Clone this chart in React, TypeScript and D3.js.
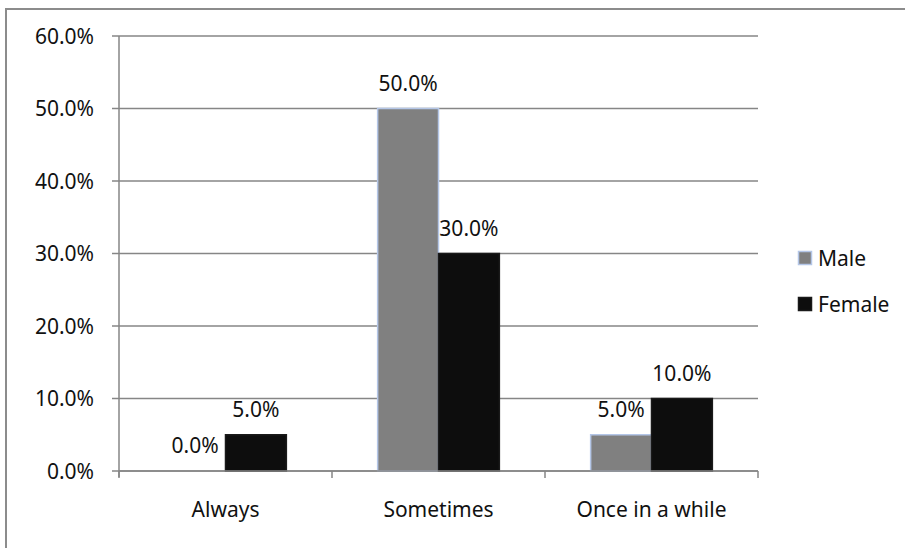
import React from 'react';
import * as d3 from 'd3';

const categories = ['Always', 'Sometimes', 'Once in a while'];
const seriesNames = ['Male', 'Female'];
const maleValues = [0.0, 0.5, 0.05];
const femaleValues = [0.05, 0.3, 0.1];
const yTicks = [0, 0.1, 0.2, 0.3, 0.4, 0.5, 0.6];

const width = 905;
const height = 548;
const margin = { top: 36, right: 147, bottom: 77, left: 119 };
const font = '"Noto Sans", "Open Sans", sans-serif';
const gridColor = '#868686';

const fills: Record<string, string> = { Male: '#808080', Female: '#0d0d0d' };
const strokes: Record<string, string> = { Male: '#b4c6e7', Female: '#1a1a1a' };

const App: React.FC = () => {
    const x0 = d3.scaleBand<string>()
        .domain(categories)
        .range([margin.left, width - margin.right])
        .padding(0);

    const x1 = d3.scaleBand<string>()
        .domain(seriesNames)
        .range([0, x0.bandwidth()])
        .paddingInner(0)
        .paddingOuter(0.75);

    const y = d3.scaleLinear()
        .domain([0, 0.6])
        .range([height - margin.bottom, margin.top]);

    const fmt = d3.format('.1%');
    const valuesBySeries: Record<string, number[]> = { Male: maleValues, Female: femaleValues };
    const baseline = y(0);
    const boundaries = [...categories.map(c => x0(c) as number), width - margin.right];

    return (
        <svg width={width} height={height} style={{ position: 'absolute', left: 0, top: 0, background: '#fff' }}
             fontFamily={font}>
            {/* chart frame */}
            <rect x={6} y={9} width={width + 20} height={height + 20} fill="#fff" stroke="#8c8c8c" strokeWidth={2} />

            {/* gridlines + y labels */}
            {yTicks.map(t => (
                <g key={t}>
                    <line x1={margin.left - 7} x2={width - margin.right} y1={y(t)} y2={y(t)}
                          stroke={gridColor} strokeWidth={1.5} />
                    <text x={94} y={y(t)} dy="0.36em" textAnchor="end" fontSize={21} fill="#111">{fmt(t)}</text>
                </g>
            ))}

            {/* y axis line */}
            <line x1={margin.left} x2={margin.left} y1={margin.top} y2={baseline + 6} stroke={gridColor} strokeWidth={1.5} />

            {/* bars */}
            {categories.map((c, i) => (
                <g key={c} transform={`translate(${x0(c)},0)`}>
                    {seriesNames.map(s => {
                        const v = valuesBySeries[s][i];
                        const bx = x1(s) as number;
                        return (
                            <g key={s}>
                                {v > 0 && (
                                    <rect x={bx} y={y(v)} width={x1.bandwidth()} height={baseline - y(v)}
                                          fill={fills[s]} stroke={strokes[s]} strokeWidth={1.5} />
                                )}
                                <text x={bx + x1.bandwidth() / 2} y={y(v) - 18} textAnchor="middle"
                                      fontSize={21} fill="#111">{fmt(v)}</text>
                            </g>
                        );
                    })}
                </g>
            ))}

            {/* x axis */}
            <line x1={margin.left} x2={width - margin.right} y1={baseline} y2={baseline} stroke={gridColor} strokeWidth={1.5} />
            {boundaries.map((bx, i) => (
                <line key={i} x1={bx} x2={bx} y1={baseline} y2={baseline + 7} stroke={gridColor} strokeWidth={1.5} />
            ))}
            {categories.map(c => (
                <text key={c} x={(x0(c) as number) + x0.bandwidth() / 2} y={517} textAnchor="middle"
                      fontSize={21} fill="#111">{c}</text>
            ))}

            {/* legend */}
            {seriesNames.map((s, i) => (
                <g key={s} transform={`translate(798,${251 + i * 46})`}>
                    <rect x={0.5} y={0.5} width={13} height={13} fill={fills[s]} stroke={strokes[s]} strokeWidth={1.5} />
                    <text x={20} y={7} dy="0.36em" fontSize={21} fill="#111">{s}</text>
                </g>
            ))}
        </svg>
    );
};

export default App;
